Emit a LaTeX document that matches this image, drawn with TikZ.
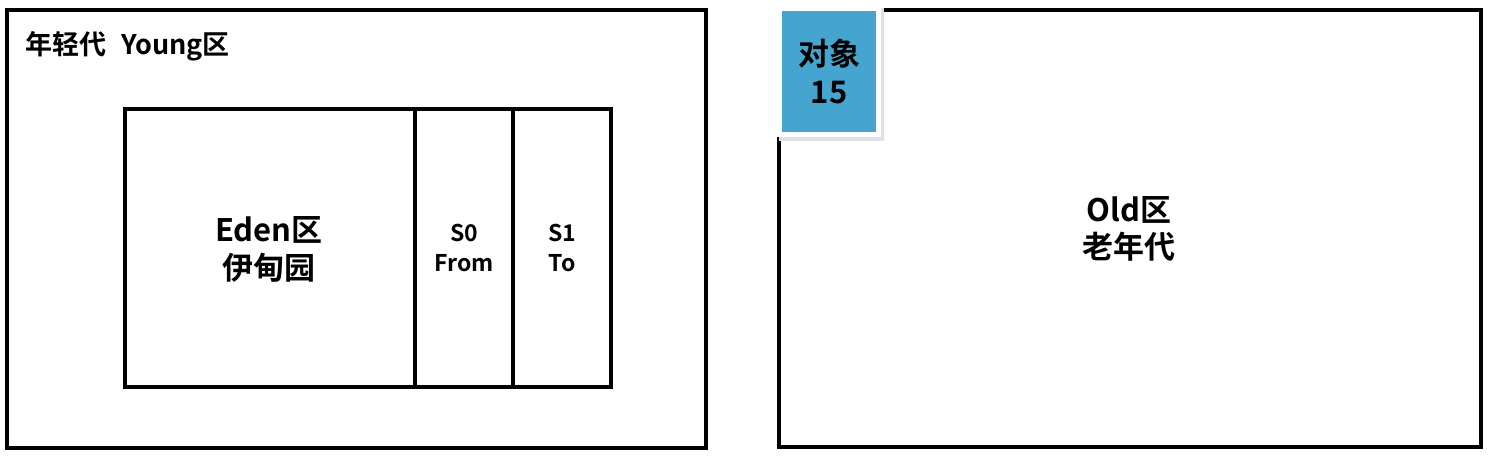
\documentclass[tikz,border=0pt]{standalone}
\usepackage{fontspec}
\setmainfont{Noto Sans CJK SC}[BoldFont={Noto Sans CJK SC Bold}]
\begin{document}
\begin{tikzpicture}[x=1pt,y=-1pt,
  box/.style={draw=black,line width=3.2pt},
  lbl/.style={font=\bfseries,align=center,inner sep=0pt}]
\useasboundingbox[fill=white] (0,0) rectangle (1492,460);
% young generation
\draw[box] (7,10) rectangle (706,448);
\node[lbl,anchor=west,font=\bfseries\fontsize{27}{30}\selectfont] (young) at (25,46) {年轻代\hspace{0.55em}Young区};
\draw[box] (125,109) rectangle (415,387);
\draw[box] (415,109) rectangle (513,387);
\draw[box] (513,109) rectangle (611,387);
\node[lbl,font=\bfseries\fontsize{31}{38}\selectfont] (eden) at (269,249) {Eden区\\伊甸园};
\node[lbl,font=\bfseries\fontsize{23}{30}\selectfont] (s0) at (464,248) {S0\\From};
\node[lbl,font=\bfseries\fontsize{23}{30}\selectfont] (s1) at (562,248) {S1\\To};
% old generation
\draw[box] (779,10) rectangle (1481,447);
\node[lbl,font=\bfseries\fontsize{31}{37}\selectfont] (old) at (1129,229) {Old区\\老年代};
% object
\fill[black!12] (779,8) rectangle (884,141);
\fill[white] (777,5) rectangle (881,137);
\fill[fill={rgb,255:red,69;green,165;blue,207}] (782,11) rectangle (876,132);
\node[lbl,font=\bfseries\fontsize{31}{38}\selectfont] (obj) at (829,71) {对象\\15};
\end{tikzpicture}
\end{document}
